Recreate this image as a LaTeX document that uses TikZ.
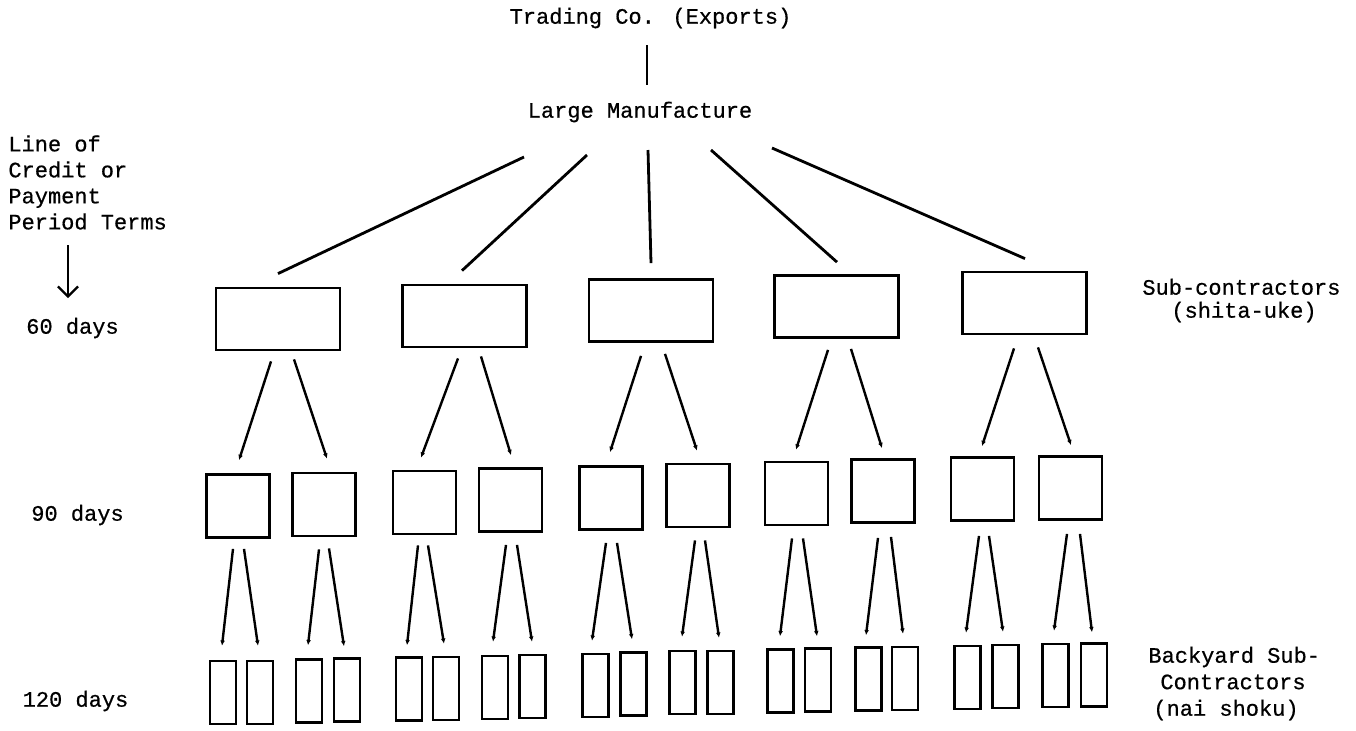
\documentclass[tikz,border=0pt]{standalone}
\usepackage{fontspec}
\newfontfamily\tw{Liberation Mono}[FakeBold=0.6]
\usetikzlibrary{arrows.meta,calc}
\newcommand{\cnx}[6]{\draw[conn] ($(#1)+(#2,#3)$) -- ($(#4)+(#5,#6)$);}
\begin{document}
\begin{tikzpicture}[x=0.5pt,y=-0.5pt,
  lbl/.style={font=\tw\fontsize{11}{13}\selectfont, inner sep=0pt},
  bigbox/.style={draw, line width=1.4pt, minimum width=62pt, minimum height=31pt, inner sep=0pt},
  midbox/.style={draw, line width=1.4pt, minimum width=31.5pt, minimum height=31.5pt, inner sep=0pt},
  smallbox/.style={draw, line width=1.3pt, minimum width=13pt, minimum height=31.5pt, inner sep=0pt},
  trunk/.style={line width=1.4pt},
  conn/.style={line width=1.2pt, -{Latex[length=2.6pt,width=2.4pt]}},
  period/.style={line width=1.1pt, -{Straight Barb[length=5pt,width=10pt]}}]
\useasboundingbox (0,0) rectangle (1356,730);

% top texts
\node[lbl] (tc) at (650.5,18) {Trading Co. (Exports)};
\node[lbl] (lm) at (640,112) {Large Manufacture};
\draw[trunk] ($(tc)+(-3.5,27)$) -- ($(lm)+(7,-27)$);

% left labels
\node[lbl, anchor=west, align=left] (terms) at (8,182.5) {Line of\\Credit or\\Payment\\Period Terms};
\coordinate (pa) at (68,245);
\coordinate (pb) at (68,298);
\draw[period] (pa) -- (pb);
\node[lbl] (d60) at (72.5,328) {60 days};
\node[lbl] (d90) at (77.5,515) {90 days};
\node[lbl] (d120) at (75.5,701) {120 days};

% right labels
\node[lbl, anchor=west, align=left, font=\tw\fontsize{11}{11.5}\selectfont] (sub) at (1142,300.5) {Sub-contractors\\\hspace*{14.5pt}(shita-uke)};
\node[lbl, anchor=west, align=left, font=\tw\fontsize{11}{13.25}\selectfont] (back) at (1148,683.5) {Backyard Sub-\\\hspace*{6pt}Contractors\\\hspace*{2.5pt}(nai shoku)};

% row 1
\node[bigbox] (b1) at (278,319) {};
\node[bigbox] (b2) at (464.5,316) {};
\node[bigbox] (b3) at (651,310.5) {};
\node[bigbox] (b4) at (836.5,306.5) {};
\node[bigbox] (b5) at (1024.5,303) {};

% row 2
\node[midbox] (m11) at (238,506) {};
\node[midbox] (m12) at (324,504.5) {};
\node[midbox] (m21) at (424.5,502.5) {};
\node[midbox] (m22) at (510.5,500) {};
\node[midbox] (m31) at (611,498) {};
\node[midbox] (m32) at (698,495.5) {};
\node[midbox] (m41) at (796.5,493.5) {};
\node[midbox] (m42) at (883,491) {};
\node[midbox] (m51) at (982.5,489) {};
\node[midbox] (m52) at (1070.5,488) {};

% row 3
\node[smallbox] (s1) at (223,692.5) {};
\node[smallbox] (s2) at (260,692.5) {};
\node[smallbox] (s3) at (309,691) {};
\node[smallbox] (s4) at (347,690) {};
\node[smallbox] (s5) at (409,689) {};
\node[smallbox] (s6) at (446,688.5) {};
\node[smallbox] (s7) at (495,687.5) {};
\node[smallbox] (s8) at (532.5,686.5) {};
\node[smallbox] (s9) at (595.5,685.5) {};
\node[smallbox] (s10) at (633.5,684) {};
\node[smallbox] (s11) at (682.5,682.5) {};
\node[smallbox] (s12) at (720.5,682.5) {};
\node[smallbox] (s13) at (780.5,681) {};
\node[smallbox] (s14) at (818,680) {};
\node[smallbox] (s15) at (868.5,679) {};
\node[smallbox] (s16) at (905,678.5) {};
\node[smallbox] (s17) at (967.5,677.5) {};
\node[smallbox] (s18) at (1005.5,676.5) {};
\node[smallbox] (s19) at (1055.5,675.5) {};
\node[smallbox] (s20) at (1094,675) {};

% large manufacture to sub-contractors
\draw[trunk] ($(lm)+(-116,45)$) -- ($(b1.north)+(0,-13)$);
\draw[trunk] ($(lm)+(-53,43)$) -- ($(b2.north)+(-2.5,-13)$);
\draw[trunk] ($(lm)+(8,38)$) -- ($(b3.north)+(0,-15)$);
\draw[trunk] ($(lm)+(71,38)$) -- ($(b4.north)+(0.5,-12)$);
\draw[trunk] ($(lm)+(132,36)$) -- ($(b5.north)+(0.5,-12)$);

% row 1 to row 2
\cnx{b1.south}{-7}{10}{m11.north}{1}{-13}
\cnx{b1.south}{16}{8}{m12.north}{3}{-13}
\cnx{b2.south}{-6.5}{10}{m21.north}{-3.5}{-12}
\cnx{b2.south}{16.5}{8}{m22.north}{0.5}{-12}
\cnx{b3.south}{-10}{13}{m31.north}{-1}{-13}
\cnx{b3.south}{14}{11}{m32.north}{-1}{-12}
\cnx{b4.south}{-8.5}{11}{m41.north}{-0.5}{-11}
\cnx{b4.south}{14.5}{10}{m42.north}{-1}{-10}
\cnx{b5.south}{-10.5}{13}{m51.north}{-0.5}{-10}
\cnx{b5.south}{13.5}{12}{m52.north}{0.5}{-10}

% row 2 to row 3
\cnx{m11.south}{-5}{10}{s1.north}{-1}{-14}
\cnx{m11.south}{6}{10}{s2.north}{-2}{-14}
\cnx{m12.south}{-5}{12}{s3.north}{-1}{-13}
\cnx{m12.south}{5}{11}{s4.north}{-3}{-11}
\cnx{m21.south}{-6.5}{10}{s5.north}{-2}{-11}
\cnx{m21.south}{3.5}{10}{s6.north}{-2}{-12}
\cnx{m22.south}{-4.5}{12}{s7.north}{-2}{-13}
\cnx{m22.south}{6.5}{12}{s8.north}{-0.5}{-12}
\cnx{m31.south}{-5}{12}{s9.north}{-3.5}{-12}
\cnx{m31.south}{6}{12}{s10.north}{-1.5}{-12}
\cnx{m32.south}{-3}{12}{s11.north}{-0.5}{-13}
\cnx{m32.south}{7}{12}{s12.north}{-1.5}{-12}
\cnx{m41.south}{-4.5}{12}{s13.north}{-0.5}{-12}
\cnx{m41.south}{6.5}{12}{s14.north}{-1}{-11}
\cnx{m42.south}{-5}{14}{s15.north}{-2.5}{-11}
\cnx{m42.south}{8}{13}{s16.north}{-2}{-12}
\cnx{m51.south}{-3.5}{14}{s17.north}{-1.5}{-12}
\cnx{m51.south}{6.5}{14}{s18.north}{-2.5}{-12}
\cnx{m52.south}{-3.5}{13}{s19.north}{-1.5}{-12}
\cnx{m52.south}{9.5}{13}{s20.north}{-2}{-10}
\end{tikzpicture}
\end{document}
